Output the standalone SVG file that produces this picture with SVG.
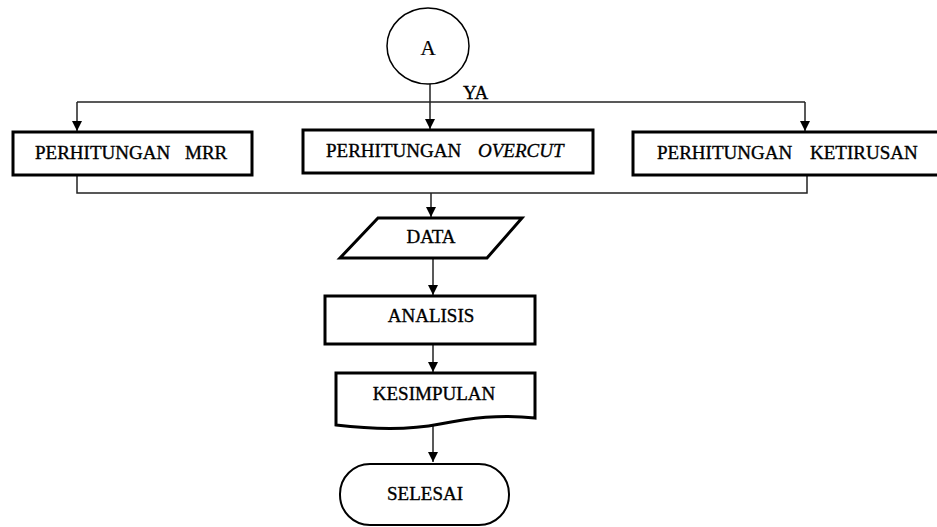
<svg xmlns="http://www.w3.org/2000/svg" width="937" height="527" viewBox="0 0 937 527">
<style>
.box{fill:#fff;stroke:#000;stroke-width:3}
.thin{fill:#fff;stroke:#000;stroke-width:1.5}
.t{font-family:"Liberation Serif","Times New Roman",serif;font-size:19px;fill:#000;stroke:#000;stroke-width:0.35}
.c{text-anchor:middle}
.con{fill:none;stroke:#222;stroke-width:1.5}
.arr{marker-end:url(#ah)}
</style>
<defs>
<marker id="ah" markerUnits="userSpaceOnUse" markerWidth="12" markerHeight="12" refX="10" refY="5" orient="auto">
<path d="M0,0 L10,5 L0,10 Z" fill="#000"/>
</marker>
</defs>
<rect width="937" height="527" fill="#fff"/>
<g id="connectors">
<path class="con arr" d="M430,84 V129"/>
<path class="con" d="M77,102 H805"/>
<path class="con arr" d="M77,102 V131"/>
<path class="con arr" d="M805,102 V131"/>
<path class="con" d="M77,175 V193 H807 V175"/>
<path class="con arr" d="M431,193 V217"/>
<path class="con arr" d="M433,258 V295"/>
<path class="con arr" d="M433,344 V372"/>
<path class="con arr" d="M433,425 V462"/>
<text class="t" x="463" y="99">YA</text>
</g>
<g id="nodeA">
<ellipse class="thin" cx="428" cy="46" rx="41" ry="38"/>
<text class="t c" x="428" y="55" style="font-size:21px;stroke-width:0.2">A</text>
</g>
<g id="mrr">
<rect class="box" x="13" y="132" width="239" height="43"/>
<text class="t" y="159"><tspan x="35">PERHITUNGAN</tspan><tspan x="185">MRR</tspan></text>
</g>
<g id="overcut">
<rect class="box" x="303" y="130" width="290" height="43"/>
<text class="t" y="157"><tspan x="326">PERHITUNGAN</tspan><tspan x="478" font-style="italic">OVERCUT</tspan></text>
</g>
<g id="ketirusan">
<rect class="box" x="633" y="132" width="310" height="43"/>
<text class="t" y="159"><tspan x="657">PERHITUNGAN</tspan><tspan x="810">KETIRUSAN</tspan></text>
</g>
<g id="data">
<polygon class="box" points="378,218 522,218 487,258 340,258"/>
<text class="t c" x="431" y="243">DATA</text>
</g>
<g id="analisis">
<rect class="box" x="325" y="296" width="210" height="48"/>
<text class="t c" x="431" y="322">ANALISIS</text>
</g>
<g id="kesimpulan">
<path class="box" d="M336,373 H535 V418 C500,414 470,418 440,424 C405,431 370,429 336,425 Z"/>
<text class="t c" x="434" y="400">KESIMPULAN</text>
</g>
<g id="selesai">
<rect class="thin" x="340" y="464" width="169" height="61" rx="30" style="stroke-width:2"/>
<text class="t c" x="425" y="500">SELESAI</text>
</g>
</svg>
